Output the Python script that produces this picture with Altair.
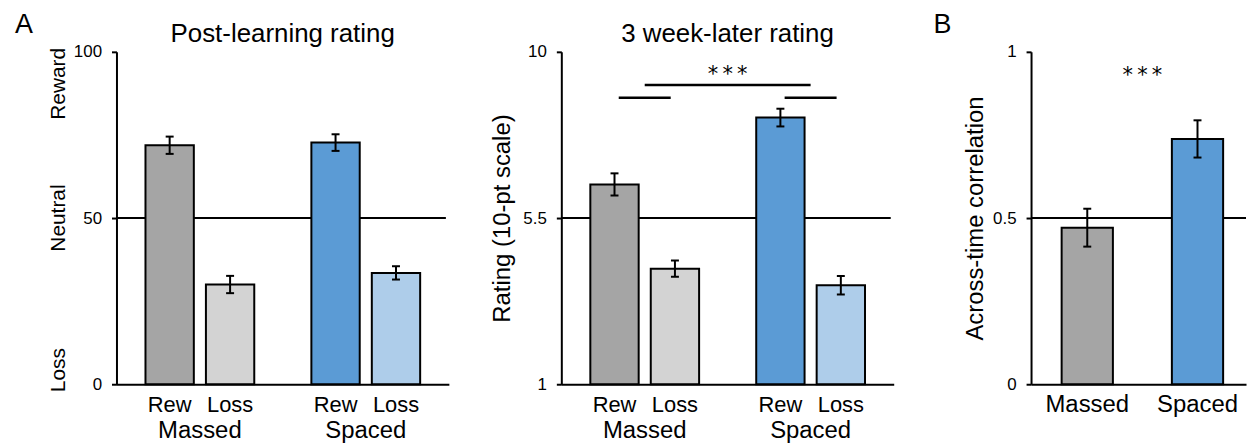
import altair as alt
import pandas as pd

# ---------------- data ----------------
groups = ["Massed", "Spaced"]
conditions = ["Rew", "Loss"]

post_mean = [71.9, 30.0, 72.7, 33.5]
post_err = [2.6, 2.6, 2.5, 2.0]

later_mean = [6.41, 4.13, 8.22, 3.68]
later_err = [0.30, 0.22, 0.24, 0.25]

corr_mean = [0.471, 0.738]
corr_err = [0.057, 0.056]

post_ticks = [0, 50, 100]
later_ticks = [1, 5.5, 10]
corr_ticks = [0, 0.5, 1]

post_side_labels = ["Reward", "Neutral", "Loss"]
post_side_pos = [100, 50, 0]

later_sig_short = 8.76
later_sig_long = 9.1
corr_sig = 0.898
sig_text = "*\u2009*\u2009*"

bar_colors = ["#a5a5a5", "#d3d3d3", "#5b9bd5", "#aecdea"]
corr_colors = ["#a5a5a5", "#5b9bd5"]

# ---------------- layout / style ----------------
FONT = "Liberation Sans"
STAR_FONT = "DejaVu Sans"
W4 = 334
W2 = 216
H = 334
GROUP_STEP = 2.745
HALF4 = 0.4
HALF2 = 0.2325
GAP12 = 113
GAP23 = 138


def grouped_df(means, errs, base):
    rows = []
    i = 0
    for gi, g in enumerate(groups):
        for ci, c in enumerate(conditions):
            rows.append(dict(group=g, cond=c, key=f"{g} {c}", gi=gi, ci=ci,
                             mean=means[i], err=errs[i], base=base))
            i += 1
    return pd.DataFrame(rows)


def letter_mark(letter, x):
    return alt.Chart(pd.DataFrame({"t": [letter]})).mark_text(
        font=FONT, fontSize=27, align="left", baseline="alphabetic", color="black"
    ).encode(x=alt.value(x), y=alt.value(-19), text="t:N")


def title_mark(title, w):
    return alt.Chart(pd.DataFrame({"t": [title]})).mark_text(
        font=FONT, fontSize=26, align="center", baseline="middle", color="black"
    ).encode(x=alt.value(w / 2), y=alt.value(-18), text="t:N")


def yaxis(ticks, ytitle, tx=-59):
    kw = dict(values=ticks, labelExpr="'' + datum.value", grid=False)
    if ytitle:
        kw.update(title=ytitle, titleFont=FONT, titleFontSize=24, titleFontWeight="normal",
                  titleColor="black", titleX=tx, titleY=H / 2, titleAngle=270,
                  titleBaseline="middle", titleAlign="center")
    else:
        kw.update(title=None)
    return alt.Axis(**kw)


def grouped_panel(means, errs, ticks, lo, hi, neutral, title, ytitle, letter, sig=False, side=False):
    df = grouped_df(means, errs, lo)
    keys = list(df["key"])
    xs = alt.Scale(domain=[-0.88, 4.62], nice=False, zero=False)
    ys = alt.Scale(domain=[lo, hi], nice=False, zero=False)
    xaxis = alt.Axis(title=None, labels=False, ticks=False, domain=True, grid=False)

    base = alt.Chart(df).transform_calculate(
        slot=f"datum.gi * {GROUP_STEP} + datum.ci",
        xa=f"datum.gi * {GROUP_STEP} + datum.ci - {HALF4}",
        xb=f"datum.gi * {GROUP_STEP} + datum.ci + {HALF4}",
        gcenter=f"datum.gi * {GROUP_STEP} + 0.5",
        elo="datum.mean - datum.err",
        ehi="datum.mean + datum.err",
    )

    neutral_rule = alt.Chart(pd.DataFrame({"v": [neutral]})).mark_rule(
        color="black", strokeWidth=2
    ).encode(y=alt.Y("v:Q", scale=ys, axis=yaxis(ticks, ytitle)),
             x=alt.value(0), x2=alt.value(W4 - 3))

    bars = base.mark_bar(stroke="black", strokeWidth=2).encode(
        x=alt.X("xa:Q", scale=xs, axis=xaxis), x2="xb:Q",
        y=alt.Y("mean:Q", scale=ys), y2="base:Q",
        color=alt.Color("key:N", scale=alt.Scale(domain=keys, range=bar_colors), legend=None),
    )
    err = base.mark_rule(color="black", strokeWidth=2).encode(
        x="slot:Q", y="elo:Q", y2="ehi:Q")
    cap_lo = base.mark_tick(orient="horizontal", color="black", size=8, thickness=2, opacity=1).encode(
        x="slot:Q", y="elo:Q")
    cap_hi = base.mark_tick(orient="horizontal", color="black", size=8, thickness=2, opacity=1).encode(
        x="slot:Q", y="ehi:Q")
    cond_labels = base.mark_text(font=FONT, fontSize=22, color="black", baseline="middle").encode(
        x="slot:Q", y=alt.value(H + 21), text="cond:N")
    group_labels = base.transform_filter("datum.ci == 0").mark_text(
        font=FONT, fontSize=24, color="black", baseline="middle").encode(
        x="gcenter:Q", y=alt.value(H + 47), text="group:N")

    layers = [neutral_rule, bars, err, cap_lo, cap_hi, cond_labels, group_labels,
              title_mark(title, W4)]
    if letter:
        layers.append(letter_mark(letter, -102))

    if side:
        aligns = ["right", "center", "left"]
        dxs = [4, 0, -8]
        for lab, pos, al, dx in zip(post_side_labels, post_side_pos, aligns, dxs):
            layers.append(alt.Chart(pd.DataFrame({"t": [lab], "p": [pos]})).mark_text(
                font=FONT, fontSize=21, color="black", angle=270, align=al,
                baseline="middle", dx=dx
            ).encode(x=alt.value(-58), y=alt.Y("p:Q", scale=ys), text="t:N"))

    if sig:
        short = base.transform_filter("datum.ci == 0").transform_calculate(
            s1="datum.gcenter - 0.43", s2="datum.gcenter + 0.43", sy=str(later_sig_short)
        ).mark_rule(color="black", strokeWidth=2.5).encode(x="s1:Q", x2="s2:Q", y="sy:Q")
        long_df = pd.DataFrame({"a": [0.5], "b": [GROUP_STEP + 0.5], "y": [later_sig_long], "t": [sig_text]})
        long_line = alt.Chart(long_df).mark_rule(color="black", strokeWidth=2.5).encode(
            x="a:Q", x2="b:Q", y="y:Q")
        stars = alt.Chart(long_df).transform_calculate(m="(datum.a + datum.b) / 2").mark_text(
            font=STAR_FONT, fontSize=21, color="black", baseline="alphabetic", dy=-4).encode(
            x="m:Q", y="y:Q", text="t:N")
        layers += [short, long_line, stars]

    return alt.layer(*layers).properties(width=W4, height=H)


def spacer(w):
    return alt.Chart(pd.DataFrame({"a": [0]})).mark_point(opacity=0).properties(width=w, height=H)


p1 = grouped_panel(post_mean, post_err, post_ticks, 0, 100, 50,
                   "Post-learning rating", None, "A", side=True)
p2 = grouped_panel(later_mean, later_err, later_ticks, 1, 10, 5.5,
                   "3 week-later rating", "Rating (10-pt scale)", None, sig=True)

# ---- panel B ----
dfc = pd.DataFrame({"group": groups, "gi": [0, 1], "mean": corr_mean, "err": corr_err, "base": 0})
xs3 = alt.Scale(domain=[-0.51, 1.44], nice=False, zero=False)
ys3 = alt.Scale(domain=[0, 1], nice=False, zero=False)
base3 = alt.Chart(dfc).transform_calculate(
    xa=f"datum.gi - {HALF2}", xb=f"datum.gi + {HALF2}",
    elo="datum.mean - datum.err", ehi="datum.mean + datum.err")
n3 = alt.Chart(pd.DataFrame({"v": [0.5]})).mark_rule(color="black", strokeWidth=2).encode(
    y=alt.Y("v:Q", scale=ys3, axis=yaxis(corr_ticks, "Across-time correlation", tx=-56)),
    x=alt.value(0), x2=alt.value(W2))
bars3 = base3.mark_bar(stroke="black", strokeWidth=2).encode(
    x=alt.X("xa:Q", scale=xs3, axis=alt.Axis(title=None, labels=False, ticks=False, grid=False)),
    x2="xb:Q", y=alt.Y("mean:Q", scale=ys3), y2="base:Q",
    color=alt.Color("group:N", scale=alt.Scale(domain=groups, range=corr_colors), legend=None))
err3 = base3.mark_rule(color="black", strokeWidth=2).encode(x="gi:Q", y="elo:Q", y2="ehi:Q")
caplo3 = base3.mark_tick(orient="horizontal", color="black", size=8, thickness=2, opacity=1).encode(
    x="gi:Q", y="elo:Q")
caphi3 = base3.mark_tick(orient="horizontal", color="black", size=8, thickness=2, opacity=1).encode(
    x="gi:Q", y="ehi:Q")
lab3 = base3.mark_text(font=FONT, fontSize=24, color="black", baseline="middle").encode(
    x="gi:Q", y=alt.value(H + 21), text="group:N")
stars3 = alt.Chart(pd.DataFrame({"x": [0.5], "y": [corr_sig], "t": [sig_text]})).mark_text(
    font=STAR_FONT, fontSize=21, color="black", baseline="alphabetic", dy=-4).encode(
    x="x:Q", y="y:Q", text="t:N")
p3 = alt.layer(n3, bars3, err3, caplo3, caphi3, lab3, stars3, letter_mark("B", -98)).properties(
    width=W2, height=H)

chart = alt.hconcat(p1, spacer(GAP12), p2, spacer(GAP23), p3, spacing=0, bounds="flush").resolve_scale(
    color="independent").configure_view(stroke=None).configure_axis(
    domainColor="black", domainWidth=2, tickColor="black", tickWidth=2, tickSize=5,
    labelFont=FONT, labelFontSize=17, labelColor="black", labelPadding=10, grid=False
).properties(padding={"left": 7, "top": 2, "right": 0, "bottom": 0})

chart.save("out.html", embed_options={"renderer": "svg", "actions": False})
